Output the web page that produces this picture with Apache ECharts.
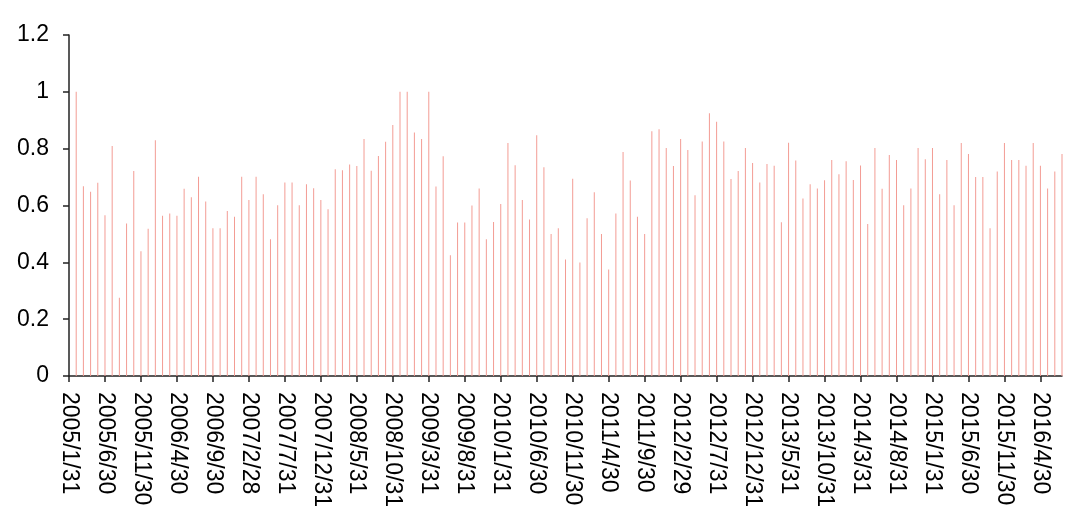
<!DOCTYPE html>
<html>
<head>
<meta charset="utf-8">
<style>
html,body{margin:0;padding:0;background:#fff;}
#chart{width:1071px;height:519px;}
</style>
<script src="https://cdn.jsdelivr.net/npm/echarts@6/dist/echarts.min.js"></script>
</head>
<body>
<div id="chart"></div>
<script>
const categories = [
  '2005/1/31','2005/2/28','2005/3/31','2005/4/30','2005/5/31','2005/6/30','2005/7/31','2005/8/31','2005/9/30','2005/10/31','2005/11/30','2005/12/31',
  '2006/1/31','2006/2/28','2006/3/31','2006/4/30','2006/5/31','2006/6/30','2006/7/31','2006/8/31','2006/9/30','2006/10/31','2006/11/30','2006/12/31',
  '2007/1/31','2007/2/28','2007/3/31','2007/4/30','2007/5/31','2007/6/30','2007/7/31','2007/8/31','2007/9/30','2007/10/31','2007/11/30','2007/12/31',
  '2008/1/31','2008/2/29','2008/3/31','2008/4/30','2008/5/31','2008/6/30','2008/7/31','2008/8/31','2008/9/30','2008/10/31','2008/11/30','2008/12/31',
  '2009/1/31','2009/2/28','2009/3/31','2009/4/30','2009/5/31','2009/6/30','2009/7/31','2009/8/31','2009/9/30','2009/10/31','2009/11/30','2009/12/31',
  '2010/1/31','2010/2/28','2010/3/31','2010/4/30','2010/5/31','2010/6/30','2010/7/31','2010/8/31','2010/9/30','2010/10/31','2010/11/30','2010/12/31',
  '2011/1/31','2011/2/28','2011/3/31','2011/4/30','2011/5/31','2011/6/30','2011/7/31','2011/8/31','2011/9/30','2011/10/31','2011/11/30','2011/12/31',
  '2012/1/31','2012/2/29','2012/3/31','2012/4/30','2012/5/31','2012/6/30','2012/7/31','2012/8/31','2012/9/30','2012/10/31','2012/11/30','2012/12/31',
  '2013/1/31','2013/2/28','2013/3/31','2013/4/30','2013/5/31','2013/6/30','2013/7/31','2013/8/31','2013/9/30','2013/10/31','2013/11/30','2013/12/31',
  '2014/1/31','2014/2/28','2014/3/31','2014/4/30','2014/5/31','2014/6/30','2014/7/31','2014/8/31','2014/9/30','2014/10/31','2014/11/30','2014/12/31',
  '2015/1/31','2015/2/28','2015/3/31','2015/4/30','2015/5/31','2015/6/30','2015/7/31','2015/8/31','2015/9/30','2015/10/31','2015/11/30','2015/12/31',
  '2016/1/31','2016/2/29','2016/3/31','2016/4/30','2016/5/31','2016/6/30','2016/7/31'
];

const values = [
  '-',
  1.0, 0.668, 0.648, 0.680, 0.566, 0.809, 0.275, 0.537, 0.721, 0.439,
  0.518, 0.830, 0.564, 0.572, 0.564, 0.659, 0.629, 0.701, 0.614, 0.520,
  0.520, 0.581, 0.560, 0.701, 0.619, 0.701, 0.640, 0.481, 0.601, 0.681,
  0.681, 0.601, 0.675, 0.661, 0.619, 0.587, 0.728, 0.724, 0.744, 0.739,
  0.834, 0.722, 0.774, 0.824, 0.883, 1.0, 1.0, 0.857, 0.834, 1.0,
  0.667, 0.773, 0.425, 0.540, 0.540, 0.600, 0.660, 0.481, 0.542, 0.605,
  0.820, 0.742, 0.619, 0.551, 0.847, 0.735, 0.500, 0.520, 0.410, 0.694,
  0.399, 0.555, 0.647, 0.500, 0.375, 0.572, 0.788, 0.688, 0.560, 0.500,
  0.861, 0.868, 0.802, 0.739, 0.834, 0.795, 0.636, 0.825, 0.925, 0.895,
  0.825, 0.693, 0.721, 0.802, 0.750, 0.681, 0.746, 0.740, 0.541, 0.821,
  0.758, 0.625, 0.675, 0.660, 0.689, 0.760, 0.710, 0.756, 0.690, 0.741,
  0.535, 0.802, 0.659, 0.778, 0.760, 0.601, 0.660, 0.802, 0.763, 0.802,
  0.640, 0.760, 0.601, 0.820, 0.781, 0.700, 0.700, 0.520, 0.720, 0.820,
  0.760, 0.760, 0.740, 0.820, 0.740, 0.660, 0.720, 0.781
];

const yTicks = { min: 0, max: 1.2, interval: 0.2 };

const chart = echarts.init(document.getElementById('chart'), null, { renderer: 'canvas' });
chart.setOption({
  animation: false,
  backgroundColor: '#ffffff',
  grid: { left: 69, right: 9, top: 35, bottom: 143, containLabel: false },
  xAxis: {
    type: 'category',
    data: categories,
    boundaryGap: false,
    axisLine: { show: true, lineStyle: { color: '#222', width: 1.5 } },
    axisTick: { show: true, interval: 4, length: 6, lineStyle: { color: '#222', width: 1.5 } },
    axisLabel: {
      interval: 4,
      rotate: -90,
      margin: 16,
      color: '#000',
      fontSize: 23,
      fontFamily: 'Liberation Sans, Arial, sans-serif'
    },
    splitLine: { show: false }
  },
  yAxis: {
    type: 'value',
    min: yTicks.min,
    max: yTicks.max,
    interval: yTicks.interval,
    axisLine: { show: true, lineStyle: { color: '#222', width: 1.5 } },
    axisTick: { show: true, length: 6, lineStyle: { color: '#222', width: 1.5 } },
    axisLabel: {
      margin: 20,
      color: '#000',
      fontSize: 23,
      fontFamily: 'Liberation Sans, Arial, sans-serif'
    },
    splitLine: { show: false }
  },
  series: [{
    type: 'bar',
    data: values,
    barWidth: 1,
    itemStyle: { color: '#F39C94' }
  }]
});
</script>
</body>
</html>
